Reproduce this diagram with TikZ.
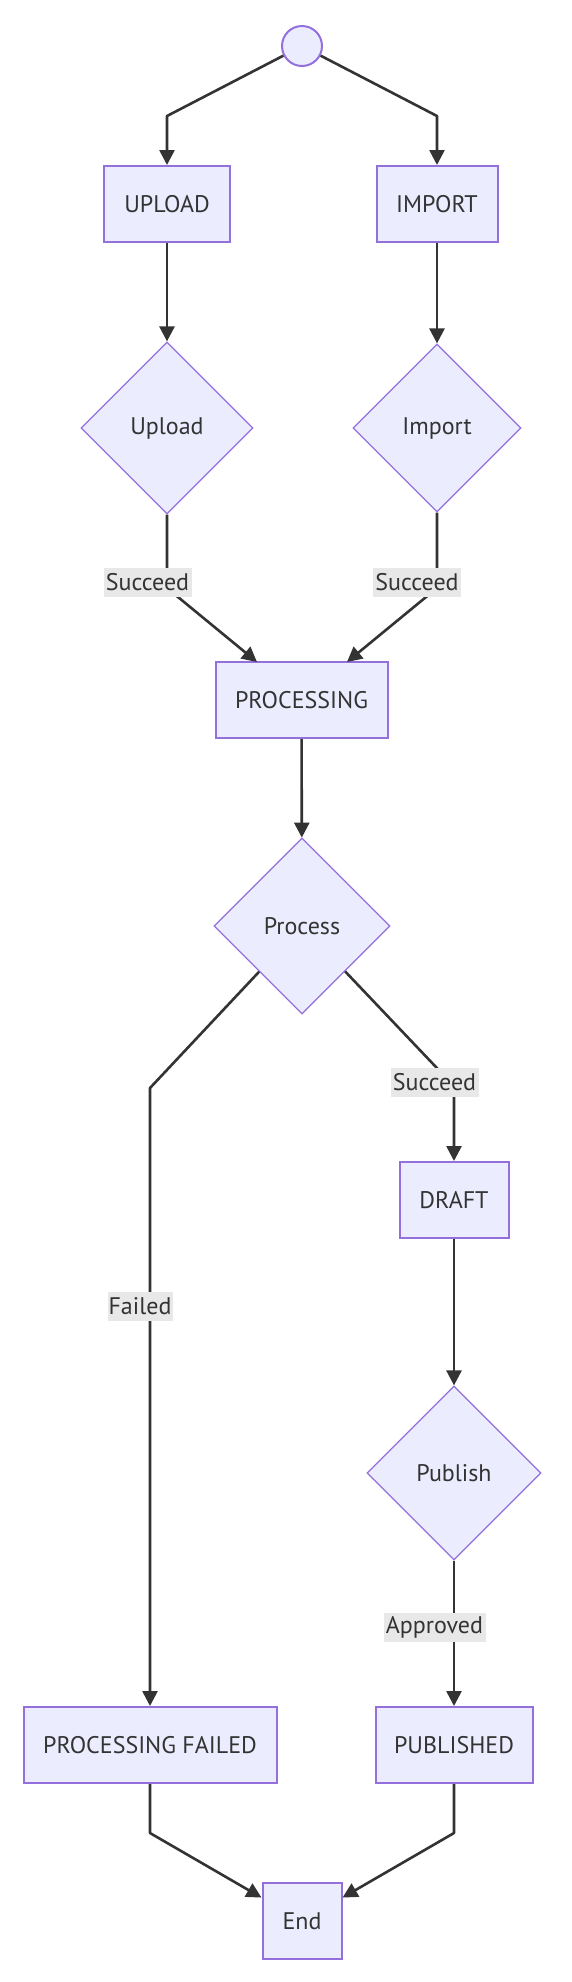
\documentclass[tikz,border=0pt]{standalone}
\usepackage{fontspec}
\setmainfont{PT Sans}
\usetikzlibrary{shapes.geometric,arrows.meta}
\definecolor{nodefill}{HTML}{ECECFF}
\definecolor{nodeline}{HTML}{9370DB}
\definecolor{edgeline}{HTML}{333333}
\definecolor{labelfill}{HTML}{E8E8E8}

\begin{document}
\begin{tikzpicture}[x=1pt, y=-1pt, font=\fontsize{24}{28}\selectfont]
            \tikzstyle{state} = [rectangle, draw=nodeline, fill=nodefill, line width=2pt, text=edgeline, minimum height=76pt, inner sep=0pt]
            \tikzstyle{choice} = [diamond, draw=nodeline, fill=nodefill, line width=1.2pt, text=edgeline, inner sep=0pt]
            \tikzstyle{edge} = [draw=edgeline, line width=2.6pt, line join=round, -{Triangle[length=15pt,width=15pt]}]
            \tikzstyle{cond} = [fill=labelfill, text=edgeline, inner sep=0pt, minimum height=29pt]

            \useasboundingbox (0,0) rectangle (572,1982);

            \node[circle, draw=nodeline, fill=nodefill, line width=2pt, minimum size=40pt, inner sep=0pt] (start) at (302,46) {};
            \node[state, minimum width=126pt] (upload) at (167,204) {UPLOAD};
            \node[state, minimum width=121pt] (import) at (437,204) {IMPORT};
            \node[choice, minimum size=172pt] (uploadq) at (167,428) {Upload};
            \node[choice, minimum size=168pt] (importq) at (437,428) {Import};
            \node[state, minimum width=172pt] (processing) at (301.5,700) {PROCESSING};
            \node[choice, minimum size=176pt] (processq) at (302,926) {Process};
            \node[state, minimum width=109pt] (draft) at (454,1200) {DRAFT};
            \node[choice, minimum size=174pt] (publishq) at (454,1473) {Publish};
            \node[state, minimum width=253pt] (failed) at (150,1745) {PROCESSING FAILED};
            \node[state, minimum width=157pt] (published) at (454,1745) {PUBLISHED};
            \node[state, minimum width=79pt] (end) at (302,1921) {End};

            % bends
            \coordinate (b1) at (167,116);
            \coordinate (b2) at (437,116);
            \coordinate (b3) at (167,588);
            \coordinate (b4) at (437,588);
            \coordinate (b5) at (150,1088);
            \coordinate (b6) at (454,1086);
            \coordinate (b7) at (150,1833);
            \coordinate (b8) at (454,1833);
            \coordinate (p1) at (257,662);
            \coordinate (p2) at (347,662);

            \draw[edge] (start) -- (b1) -- (upload);
            \draw[edge] (start) -- (b2) -- (import);
            \draw[edge] (upload) -- (uploadq);
            \draw[edge] (import) -- (importq);
            \draw[edge] (uploadq) -- (b3) -- (p1);
            \draw[edge] (importq) -- (b4) -- (p2);
            \draw[edge] (processing) -- (processq);
            \draw[edge] (processq) -- (b5) -- (failed);
            \draw[edge] (processq) -- (b6) -- (draft);
            \draw[edge] (draft) -- (publishq);
            \draw[edge] (publishq) -- (published);
            \draw[edge] (failed) -- (b7) -- (end);
            \draw[edge] (published) -- (b8) -- (end);

            % edge labels
            \node[cond, minimum width=88pt] (s1) at (147.5,582) {Succeed};
            \node[cond, minimum width=88pt] (s2) at (417,582) {Succeed};
            \node[cond, minimum width=88pt] (s3) at (434.5,1082) {Succeed};
            \node[cond, minimum width=65pt] (f1) at (140,1306) {Failed};
            \node[cond, minimum width=102pt] (a1) at (434.5,1627) {Approved};
        \end{tikzpicture}
\end{document}
